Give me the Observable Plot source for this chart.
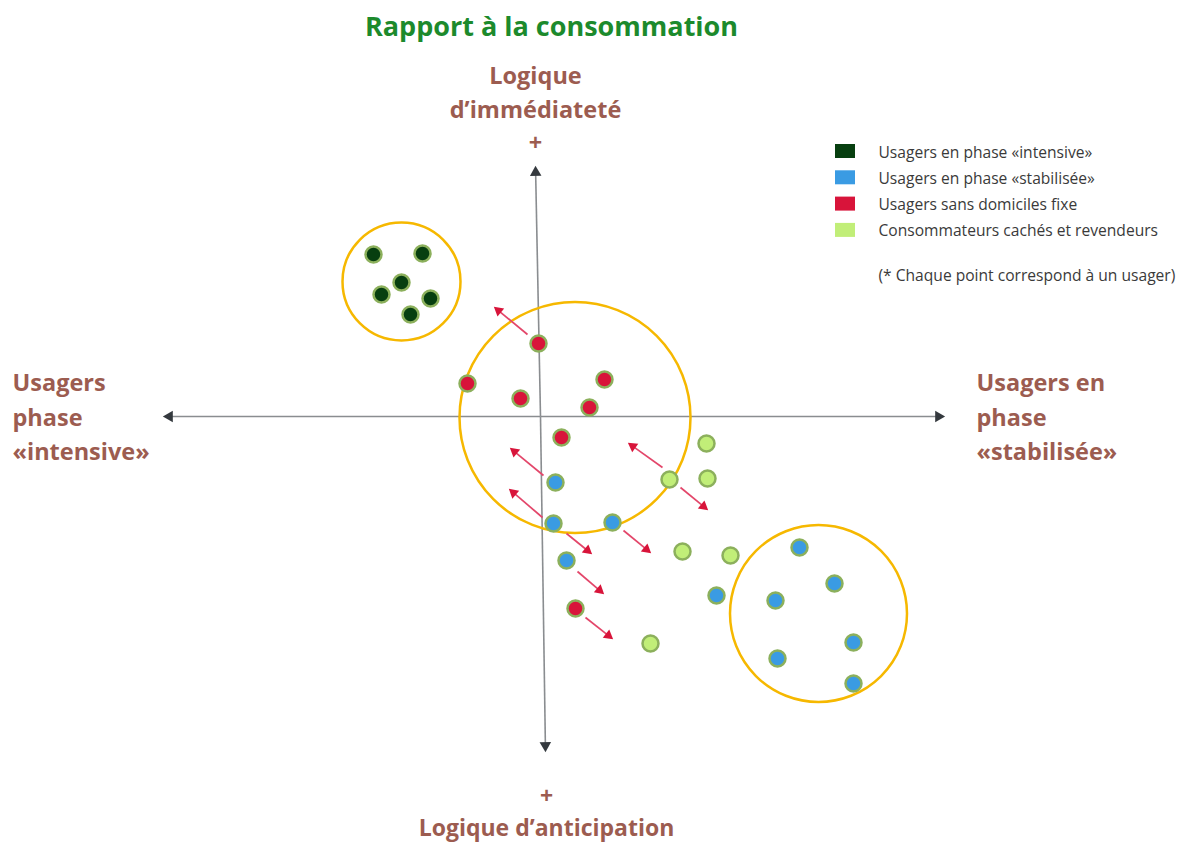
<!DOCTYPE html>
<html><head><meta charset="utf-8">
<script src="https://cdn.jsdelivr.net/npm/d3@7"></script>
<script src="https://cdn.jsdelivr.net/npm/@observablehq/plot@0.6"></script>
<style>body{margin:0;background:#fff;} svg{display:block}</style>
</head><body><div id="chart"></div>
<script>
// ---- data (diagram units, origin at axis crossing, y up) ----
const groups = ["Usagers en phase «intensive»", "Usagers en phase «stabilisée»", "Usagers sans domiciles fixe", "Consommateurs cachés et revendeurs"];
const groupColors = ["#073f10", "#3a9be3", "#d8143a", "#c1ee78"];
const note = "(* Chaque point correspond à un usager)";

const intensiveX = [-167, -118, -139, -159, -110, -130];
const intensiveY = [162, 163, 134, 122, 118, 102];
const stabiliseeX = [15, 13, 72, 26, 176, 259, 294, 235, 313, 237, 313];
const stabiliseeY = [-66, -107, -106, -144, -179, -131, -167, -184, -226, -242, -267];
const sdfX = [-2, -73, -20, 64, 49, 21, 35];
const sdfY = [73, 33, 18, 37, 9, -21, -192];
const cachesX = [129, 166, 167, 142, 190, 110];
const cachesY = [-63, -27, -62, -135, -139, -227];

const clusterX = [-139, 34.5, 278];
const clusterY = [135, -1, -197];
const clusterR = [59, 115.5, 88.5];

const arrowX1 = [-13, 3, 2, 122, 140, 26, 83, 37, 45];
const arrowY1 = [82, -59, -101, -51, -71, -117, -114, -155, -201];
const arrowX2 = [-47, -31, -32, 87, 168, 52, 111, 64, 73];
const arrowY2 = [110, -31, -72, -26, -94, -138, -137, -178, -223];

const axisTipX = [-378, 405, -5, 5];
const axisTipY = [0, 0, 251, -336];

const title = "Rapport à la consommation";
const topLabel = ["Logique", "d’immédiateté", "+"];
const bottomLabel = ["+", "Logique d’anticipation"];
const leftLabel = ["Usagers", "phase", "«intensive»"];
const rightLabel = ["Usagers en", "phase", "«stabilisée»"];

// ---- build tables ----
const pts = [];
[[intensiveX, intensiveY], [stabiliseeX, stabiliseeY], [sdfX, sdfY], [cachesX, cachesY]].forEach(([xs, ys], g) => {
  xs.forEach((x, i) => pts.push({x, y: ys[i], g: groups[g]}));
});
const clusters = clusterX.map((x, i) => ({x, y: clusterY[i], r: clusterR[i]}));

function arrowParts(x1s, y1s, x2s, y2s, headOff, shaftOff) {
  return x1s.map((x1, i) => {
    const y1 = y1s[i], x2 = x2s[i], y2 = y2s[i];
    const dx = x2 - x1, dy = y2 - y1, L = Math.hypot(dx, dy);
    const ux = dx / L, uy = dy / L;
    return {x1, y1, x2: x2 - ux * shaftOff, y2: y2 - uy * shaftOff,
            hx: x2 - ux * headOff, hy: y2 - uy * headOff,
            rot: Math.atan2(dx, dy) * 180 / Math.PI};
  });
}
const arrows = arrowParts(arrowX1, arrowY1, arrowX2, arrowY2, 6.5, 8);
const axes = arrowParts(axisTipX.map(() => 0), axisTipY.map(() => 0), axisTipX, axisTipY, 7, 9);

const brown = "#9c5c50";
const font = "'Open Sans', sans-serif";
const legendItems = groups.map((g, i) => ({g, i}));

const chart = Plot.plot({
  width: 1181, height: 843,
  marginTop: 0, marginRight: 0, marginBottom: 0, marginLeft: 0,
  x: {domain: [-540, 641], range: [0, 1181], axis: null},
  y: {domain: [416, -427], range: [0, 843], axis: null},
  r: {type: "identity"},
  color: {domain: groups, range: groupColors},
  style: {fontFamily: font, background: "#fff"},
  marks: [
    // axes
    Plot.link(axes, {x1: "x1", y1: "y1", x2: "x2", y2: "y2", stroke: "#8a8d90", strokeWidth: 1.6}),
    Plot.dot(axes, {x: "hx", y: "hy", rotate: "rot", symbol: "triangle2", r: 5.5, fill: "#34393e"}),
    // cluster circles
    Plot.dot(clusters, {x: "x", y: "y", r: "r", stroke: "#f6b800", strokeWidth: 2.5, fill: "none"}),
    // arrows
    Plot.link(arrows, {x1: "x1", y1: "y1", x2: "x2", y2: "y2", stroke: "#e3466a", strokeWidth: 1.7}),
    Plot.dot(arrows, {x: "hx", y: "hy", rotate: "rot", symbol: "triangle2", r: 5, fill: "#d8143a"}),
    // points
    Plot.dot(pts, {x: "x", y: "y", fill: "g", r: 8, stroke: "#8cb05c", strokeWidth: 2.5}),
    // title
    Plot.text([title], {x: 11, y: 389, text: d => d, fill: "#1c8a2c", fontSize: 27, fontWeight: "bold"}),
    // top labels
    Plot.text(topLabel, {x: -5, y: (d, i) => 340 - i * 33.5, text: d => d, fill: brown, fontSize: 23.5, fontWeight: "bold"}),
    Plot.text(bottomLabel, {x: 6, y: (d, i) => -380 - i * 32, text: d => d, fill: brown, fontSize: 23, fontWeight: "bold"}),
    Plot.text(leftLabel, {x: -528, y: (d, i) => 33 - i * 34.5, text: d => d, fill: brown, fontSize: 23.5, fontWeight: "bold", textAnchor: "start"}),
    Plot.text(rightLabel, {x: 436, y: (d, i) => 33 - i * 34.5, text: d => d, fill: brown, fontSize: 23.5, fontWeight: "bold", textAnchor: "start"}),
    // legend
    Plot.rect(legendItems, {x1: 295, x2: 315, y1: d => 272 - d.i * 26.3, y2: d => 258 - d.i * 26.3, fill: "g"}),
    Plot.text(legendItems, {x: 338, y: d => 264 - d.i * 26.3, text: "g", fill: "#3a3a3a", fontSize: 15.6, textAnchor: "start"}),
    Plot.text([note], {x: 338, y: 141, text: d => d, fill: "#3a3a3a", fontSize: 15.6, textAnchor: "start"})
  ]
});
document.getElementById("chart").appendChild(chart);
</script>
</body></html>
